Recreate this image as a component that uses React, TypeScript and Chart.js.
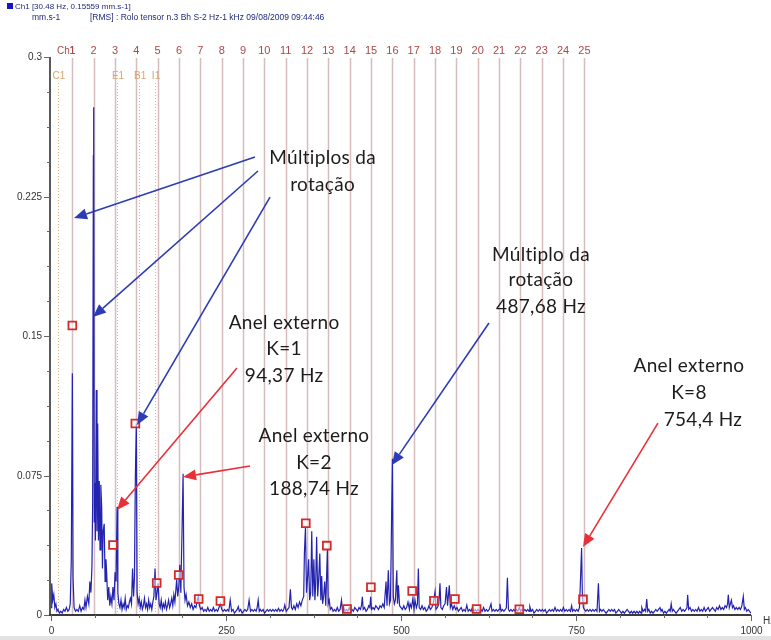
import React, { useEffect, useRef } from "react";
import { Chart, registerables } from "chart.js";

Chart.register(...registerables);

// ---------- DATA ----------
const headerLine1 = "Ch1 [30.48 Hz, 0.15559 mm.s-1]";
const headerUnit = "mm.s-1";
const headerLine2 = "[RMS] : Rolo tensor n.3 Bh S-2 Hz-1 kHz 09/08/2009 09:44:46";

const xTicks = [0, 250, 500, 750, 1000];
const yTicks = [0, 0.075, 0.15, 0.225, 0.3];
const yTickLabels = ["0", "0.075", "0.15", "0.225", "0.3"];

const harmonicHz = [30.48, 60.96, 91.44, 121.92, 152.4, 182.88, 213.36, 243.84, 274.32, 304.8, 335.28, 365.76, 396.24, 426.72, 457.2, 487.68, 518.16, 548.64, 579.12, 609.6, 640.08, 670.56, 701.04, 731.52, 762];
const harmonicLabels = ["1", "2", "3", "4", "5", "6", "7", "8", "9", "10", "11", "12", "13", "14", "15", "16", "17", "18", "19", "20", "21", "22", "23", "24", "25"];

const cursorHz = [10, 94.37, 126, 148.6];
const cursorLabels = ["C1", "E1", "B1", "I1"];

const spectrumLow: [number, number][] = [
  [0, 0.004], [1, 0.017], [2.5, 0.008], [4, 0.011], [5.5, 0.004], [7, 0.006], [8.5, 0.002], [10, 0.003], [12, 0.001], [14, 0.002], [16, 0.001], [18, 0.003], [20, 0.002], [22, 0.004], [24, 0.002], [26, 0.003], [27.5, 0.006], [29, 0.03], [30.5, 0.13], [31.5, 0.02], [33, 0.004], [35, 0.002], [37, 0.003], [39, 0.002], [41, 0.005], [43, 0.002], [45, 0.004], [47, 0.003], [48.5, 0.008], [50, 0.004], [52, 0.01], [54, 0.006], [55.5, 0.018], [57, 0.012], [58.5, 0.026], [59.5, 0.06], [60.5, 0.247], [61, 0.273], [61.8, 0.05], [62.5, 0.071], [63.5, 0.04], [64.7, 0.121], [65.7, 0.045], [66.7, 0.103], [67.8, 0.04], [69, 0.072], [70, 0.035], [71.2, 0.07], [72.4, 0.058], [73.5, 0.025], [74.5, 0.045], [76, 0.049], [77.3, 0.018], [78.5, 0.03], [79.5, 0.023], [81, 0.008], [82.5, 0.015], [84, 0.005], [85.5, 0.01], [87, 0.006], [88.5, 0.015], [90, 0.008], [91.5, 0.023], [93, 0.018], [94.4, 0.058], [95.5, 0.012], [97, 0.006], [98.5, 0.004], [100, 0.008], [101.5, 0.003], [103, 0.006], [104.5, 0.004], [106, 0.009], [107.5, 0.003], [109, 0.005], [110.5, 0.004], [112, 0.007], [113.5, 0.009], [115, 0.006], [116.5, 0.025], [118, 0.01], [119.2, 0.02], [120.5, 0.074], [121.9, 0.103], [123, 0.012], [124.5, 0.006], [126, 0.009], [127.5, 0.004], [129, 0.007], [130.5, 0.003], [132, 0.005], [133.5, 0.009], [135, 0.004], [136.5, 0.006], [138, 0.003], [139.5, 0.008], [141, 0.004], [142.5, 0.006], [144, 0.003], [145.5, 0.007], [147, 0.01], [148.6, 0.025], [150, 0.008], [151.5, 0.012], [153, 0.017], [154.5, 0.006], [156, 0.004], [157.5, 0.008], [159, 0.003], [160.5, 0.006], [162, 0.004], [163.5, 0.007], [165, 0.003], [166.5, 0.005], [168, 0.008], [169.5, 0.004], [171, 0.006], [172.5, 0.009], [174, 0.005], [175.5, 0.011], [177, 0.007], [179.5, 0.019], [181, 0.01], [182.5, 0.015], [184, 0.027], [185.5, 0.012], [187.5, 0.052], [188.7, 0.076], [190, 0.015], [191.5, 0.008], [193, 0.011], [195, 0.005], [197, 0.007], [199, 0.004], [201, 0.006], [203, 0.003], [205, 0.005], [207, 0.004], [209, 0.008], [210.5, 0.01], [212, 0.005], [214, 0.003], [216, 0.004], [218, 0.002], [220, 0.003], [222, 0.002], [224, 0.004], [226, 0.002], [228, 0.003], [230, 0.002], [232, 0.004], [234, 0.002], [236, 0.003], [238, 0.002], [240, 0.004], [242, 0.006], [244, 0.003], [246, 0.002], [248, 0.003],
];

const spectrumMid: [number, number][] = [
  [250, 0.002], [252, 0.003], [254, 0.002], [256, 0.008], [258, 0.002], [260, 0.003], [262, 0.001], [264, 0.002], [266, 0.003], [267.6, 0.0045], [269, 0.002], [271, 0.003], [273, 0.001], [275, 0.002], [277, 0.003], [279, 0.002], [281, 0.003], [283, 0.008], [285, 0.002], [287, 0.003], [289, 0.002], [291, 0.003], [293, 0.002], [294.5, 0.004], [296, 0.008], [297.5, 0.002], [299, 0.003], [301, 0.002], [303, 0.003], [305, 0.001], [307, 0.002], [309, 0.003], [311, 0.002], [313, 0.003], [315, 0.002], [317, 0.003], [319, 0.002], [321, 0.003], [323, 0.002], [325, 0.0036], [327, 0.002], [329, 0.003], [331, 0.002], [332.5, 0.003], [334, 0.0054], [336, 0.002], [338, 0.003], [340, 0.004], [342, 0.0138], [343.5, 0.004], [345, 0.003], [347, 0.005], [349, 0.003], [351, 0.006], [353, 0.004], [355, 0.007], [357, 0.005], [359, 0.008], [361, 0.01], [362, 0.033], [363.5, 0.047], [365, 0.012], [366.5, 0.02], [368, 0.03], [369.5, 0.008], [371, 0.012], [372.5, 0.045], [374, 0.01], [375.5, 0.03], [377, 0.008], [378, 0.015], [379.5, 0.042], [381, 0.01], [382.5, 0.02], [384, 0.033], [385.5, 0.008], [386.7, 0.021], [388, 0.006], [389.5, 0.01], [391, 0.018], [392.5, 0.005], [394.8, 0.035], [396, 0.006], [397.5, 0.008], [399, 0.003], [401, 0.004], [403, 0.002], [405, 0.003], [407, 0.002], [409, 0.004], [411, 0.002], [413, 0.003], [415, 0.008], [416.5, 0.002], [418, 0.004], [420, 0.002], [422, 0.003], [424, 0.002], [426, 0.004], [428, 0.002], [430, 0.003], [432, 0.002], [434, 0.004], [436, 0.003], [438, 0.002], [440, 0.004], [442, 0.003], [443.5, 0.005], [444.8, 0.0098], [446, 0.003], [448, 0.004], [450, 0.002], [452, 0.003], [454, 0.005], [455.5, 0.004], [456.7, 0.0098], [458, 0.003], [460, 0.004], [462, 0.003], [464, 0.005], [466, 0.004], [468, 0.003], [470, 0.005], [472, 0.004], [474, 0.006], [476, 0.004], [478.6, 0.018], [480, 0.005], [481.9, 0.024], [483.5, 0.006], [485, 0.008], [486.5, 0.051], [487.7, 0.084], [489, 0.01], [490.5, 0.006], [492, 0.008], [494, 0.024], [495, 0.006], [496.3, 0.016], [498, 0.005], [500, 0.004],
];

const spectrumHigh: [number, number][] = [
  [502, 0.003], [504, 0.005], [506, 0.003], [508, 0.004], [510, 0.007], [512, 0.003], [513, 0.006], [515, 0.004], [517, 0.009], [518.5, 0.003], [520, 0.008], [522, 0.004], [523.5, 0.006], [524.8, 0.025], [526, 0.004], [528, 0.003], [530, 0.005], [532, 0.003], [534, 0.004], [536, 0.002], [538, 0.003], [540, 0.005], [542, 0.003], [544, 0.004], [546, 0.006], [548.6, 0.0125], [550, 0.003], [552, 0.004], [554, 0.006], [555.7, 0.017], [557, 0.004], [559, 0.003], [561, 0.005], [563, 0.006], [565, 0.015], [566.5, 0.005], [569, 0.016], [570.5, 0.004], [572, 0.006], [574, 0.003], [576, 0.005], [578, 0.003], [580, 0.004], [582, 0.002], [584, 0.003], [586, 0.004], [588, 0.002], [590, 0.003], [592, 0.002], [594, 0.0053], [596, 0.002], [598, 0.003], [600, 0.002], [602, 0.004], [604, 0.002], [606, 0.003], [608, 0.002], [610, 0.003], [612, 0.002], [614, 0.003], [616, 0.002], [618, 0.004], [620, 0.002], [622, 0.003], [624, 0.002], [626, 0.003], [628.6, 0.006], [630, 0.002], [632, 0.003], [634, 0.002], [636, 0.003], [638, 0.002], [640, 0.003], [641.4, 0.006], [643, 0.002], [645, 0.003], [647, 0.002], [649, 0.003], [650.5, 0.004], [652, 0.02], [653.5, 0.003], [655, 0.002], [657, 0.003], [659, 0.002], [661, 0.003], [663, 0.002], [665, 0.003], [667, 0.002], [669, 0.004], [671, 0.002], [673, 0.003], [675, 0.002], [677, 0.003], [679, 0.002], [681, 0.003], [683, 0.002], [684, 0.0045], [686, 0.002], [688, 0.003], [690, 0.001], [692, 0.002], [694, 0.003], [696, 0.002], [698, 0.003], [700, 0.002], [702, 0.003], [704, 0.002], [706, 0.003], [708, 0.001], [710, 0.002], [712, 0.003], [714, 0.002], [716, 0.003], [718, 0.002], [720, 0.004], [722, 0.002], [724, 0.003], [726, 0.002], [728, 0.003], [730, 0.002], [732, 0.004], [734, 0.002], [736, 0.003], [738, 0.002], [740, 0.003], [742, 0.002], [743.8, 0.005], [745, 0.002], [747, 0.003], [749, 0.002],
];

const spectrumTop: [number, number][] = [
  [751, 0.003], [753, 0.002], [755, 0.004], [756.5, 0.02], [758, 0.036], [759, 0.012], [760.5, 0.004], [762, 0.003], [764, 0.002], [766, 0.003], [768, 0.002], [770, 0.003], [772, 0.002], [774, 0.003], [776, 0.002], [778, 0.003], [780, 0.002], [782, 0.017], [783.5, 0.002], [785, 0.003], [787, 0.002], [789, 0.003], [791, 0.002], [793, 0.001], [795, 0.002], [797, 0.003], [799, 0.002], [801, 0.003], [803, 0.002], [805, 0.003], [807, 0.001], [809, 0.002], [811, 0.003], [813, 0.002], [815, 0.001], [817, 0.002], [819, 0.001], [821, 0.002], [823, 0.003], [825, 0.002], [827, 0.001], [829, 0.002], [831, 0.001], [833, 0.002], [835, 0.001], [837, 0.002], [839, 0.001], [841, 0.002], [843, 0.001], [844, 0.004], [846, 0.002], [848, 0.003], [849.5, 0.002], [851, 0.0086], [852.5, 0.002], [854, 0.003], [856, 0.001], [858, 0.002], [860, 0.001], [862, 0.002], [864, 0.003], [866, 0.002], [868, 0.003], [870, 0.004], [871.5, 0.002], [873, 0.003], [875, 0.001], [877, 0.002], [879, 0.001], [881, 0.002], [883, 0.003], [884.5, 0.002], [886, 0.006], [887.5, 0.002], [889, 0.003], [891, 0.002], [893, 0.001], [895, 0.002], [897, 0.003], [899, 0.004], [901, 0.002], [903, 0.003], [905, 0.002], [907, 0.003], [908.5, 0.004], [909.5, 0.0108], [911, 0.003], [913, 0.004], [915, 0.002], [917, 0.003], [919, 0.002], [921, 0.003], [923, 0.002], [925, 0.004], [927, 0.002], [929, 0.003], [931, 0.002], [933, 0.004], [935, 0.002], [937, 0.003], [939, 0.004], [941, 0.002], [943, 0.003], [945, 0.004], [947, 0.003], [949, 0.002], [951, 0.004], [953, 0.003], [955, 0.005], [957, 0.003], [959, 0.004], [961, 0.003], [963, 0.005], [965, 0.004], [966.5, 0.006], [967.6, 0.0108], [969, 0.004], [970.5, 0.006], [972, 0.008], [973.5, 0.004], [975, 0.005], [977, 0.003], [979, 0.004], [981, 0.003], [983, 0.004], [985, 0.003], [987, 0.005], [989, 0.01], [990.5, 0.003], [992, 0.004], [994, 0.002], [996, 0.003], [998, 0.002], [1000, 0.001],
];

const markerHz = [30.48, 88.6, 120.5, 151, 182.5, 211, 242, 364, 394, 423, 457, 516, 547, 577, 608, 669, 760];
const markerAmp = [0.1556, 0.0376, 0.103, 0.0172, 0.0215, 0.0086, 0.0075, 0.0493, 0.0373, 0.0032, 0.0149, 0.0129, 0.0077, 0.0086, 0.0032, 0.0031, 0.0084];

// annotation texts: [text, hz, amplitude]
const annotationTexts: [string, number, number][] = [
  ["Múltiplos da", 388, 0.2457],
  ["rotação", 388, 0.2312],
  ["Anel externo", 333, 0.157],
  ["K=1", 333, 0.143],
  ["94,37 Hz", 333, 0.1285],
  ["Anel externo", 375.7, 0.0962],
  ["K=2", 375.7, 0.0817],
  ["188,74 Hz", 375.7, 0.0677],
  ["Múltiplo da", 700, 0.1935],
  ["rotação", 700, 0.1801],
  ["487,68 Hz", 700, 0.1658],
  ["Anel externo", 911.4, 0.1339],
  ["K=8", 911.4, 0.1194],
  ["754,4 Hz", 931.4, 0.1048],
];

// arrows: [tailHz, tailAmp, tipHz, tipAmp, colour]
const annotationArrows: [number, number, number, number, string][] = [
  [291.4, 0.2462, 32.9, 0.2134, "#2b3cb4"],
  [295.7, 0.2387, 60, 0.1602, "#2b3cb4"],
  [312.9, 0.2247, 122.9, 0.1022, "#2b3cb4"],
  [265.7, 0.1328, 94.3, 0.0565, "#e8303a"],
  [284.3, 0.0801, 188.6, 0.0742, "#e8303a"],
  [625.7, 0.157, 487.1, 0.0806, "#2b3cb4"],
  [867.1, 0.1032, 760, 0.0366, "#e8303a"],
];

// ---------- DRAWING ----------
function drawArrow(ctx: CanvasRenderingContext2D, x1: number, y1: number, x2: number, y2: number, color: string) {
  const ang = Math.atan2(y2 - y1, x2 - x1);
  const headLen = 13;
  const headHalf = 5.5;
  const bx = x2 - headLen * Math.cos(ang);
  const by = y2 - headLen * Math.sin(ang);
  ctx.strokeStyle = color;
  ctx.fillStyle = color;
  ctx.lineWidth = 1.6;
  ctx.beginPath();
  ctx.moveTo(x1, y1);
  ctx.lineTo(bx, by);
  ctx.stroke();
  ctx.beginPath();
  ctx.moveTo(x2, y2);
  ctx.lineTo(bx + headHalf * Math.sin(ang), by - headHalf * Math.cos(ang));
  ctx.lineTo(bx - headHalf * Math.sin(ang), by + headHalf * Math.cos(ang));
  ctx.closePath();
  ctx.fill();
}

const overlayPlugin = {
  id: "overlay",
  beforeDatasetsDraw(chart: any) {
    const { ctx, chartArea, scales } = chart;
    const { top, bottom } = chartArea;
    const x = scales.x;
    ctx.save();
    ctx.strokeStyle = "rgba(196,160,160,0.7)";
    ctx.lineWidth = 1.5;
    harmonicHz.forEach((hz) => {
      const px = Math.round(x.getPixelForValue(hz)) + 0.5;
      ctx.beginPath();
      ctx.moveTo(px, top + 1);
      ctx.lineTo(px, bottom);
      ctx.stroke();
    });
    ctx.strokeStyle = "rgba(232,170,100,0.9)";
    ctx.lineWidth = 1;
    ctx.setLineDash([1, 2]);
    cursorHz.forEach((hz) => {
      const px = Math.round(x.getPixelForValue(hz)) + 0.5;
      ctx.beginPath();
      ctx.moveTo(px, top + 26);
      ctx.lineTo(px, bottom);
      ctx.stroke();
    });
    ctx.setLineDash([]);
    ctx.restore();
  },
  afterDatasetsDraw(chart: any) {
    const { ctx, chartArea, scales } = chart;
    const { top, bottom, left, right } = chartArea;
    const x = scales.x;
    const y = scales.y;
    ctx.save();

    // header
    ctx.fillStyle = "#1414c8";
    ctx.fillRect(7, 3, 6, 6);
    ctx.fillStyle = "#1e2a78";
    ctx.textBaseline = "middle";
    ctx.textAlign = "left";
    ctx.font = "8px 'Liberation Sans', Arial, sans-serif";
    ctx.fillText(headerLine1, 15, 6.5);
    ctx.font = "8.5px 'Liberation Sans', Arial, sans-serif";
    ctx.fillText(headerUnit, 32, 18);
    ctx.fillText(headerLine2, 90, 18);

    // harmonic labels
    ctx.fillStyle = "#a84848";
    ctx.textAlign = "center";
    harmonicLabels.forEach((lab, i) => {
      const px = x.getPixelForValue(harmonicHz[i]);
      if (i === 0) {
        ctx.font = "10px 'Liberation Sans', Arial, sans-serif";
        ctx.textAlign = "right";
        ctx.fillText("Ch1", px + 3, 51);
        ctx.textAlign = "center";
      }
      ctx.font = "11px 'Liberation Sans', Arial, sans-serif";
      ctx.fillText(lab, px, 51);
    });
    ctx.fillStyle = "#d8a468";
    ctx.font = "10px 'Liberation Sans', Arial, sans-serif";
    cursorLabels.forEach((lab, i) => {
      const px = x.getPixelForValue(cursorHz[i]);
      ctx.fillText(lab, px + 1, 76);
    });

    // Y axis
    ctx.strokeStyle = "#5a5a5a";
    ctx.lineWidth = 2;
    ctx.beginPath();
    ctx.moveTo(left - 1, top);
    ctx.lineTo(left - 1, bottom + 1);
    ctx.stroke();
    ctx.lineWidth = 1;
    ctx.strokeStyle = "#666";
    for (let i = 0; i < yTicks.length - 1; i++) {
      const step = (yTicks[i + 1] - yTicks[i]) / 4;
      for (let j = 1; j < 4; j++) {
        const py = Math.round(y.getPixelForValue(yTicks[i] + step * j)) + 0.5;
        ctx.beginPath();
        ctx.moveTo(left - 4, py);
        ctx.lineTo(left - 1, py);
        ctx.stroke();
      }
    }
    ctx.fillStyle = "#333";
    ctx.font = "10px 'Liberation Sans', Arial, sans-serif";
    ctx.textAlign = "right";
    yTicks.forEach((v, i) => {
      const py = Math.round(y.getPixelForValue(v)) + 0.5;
      ctx.beginPath();
      ctx.moveTo(left - 7, py);
      ctx.lineTo(left - 1, py);
      ctx.stroke();
      ctx.fillText(yTickLabels[i], left - 9, py);
    });

    // X axis
    ctx.strokeStyle = "#3a3a3a";
    ctx.lineWidth = 2;
    ctx.beginPath();
    ctx.moveTo(left - 2, bottom);
    ctx.lineTo(right, bottom);
    ctx.stroke();
    ctx.lineWidth = 1;
    ctx.strokeStyle = "#666";
    for (let i = 0; i < xTicks.length - 1; i++) {
      const step = (xTicks[i + 1] - xTicks[i]) / 4;
      for (let j = 1; j < 4; j++) {
        const px = Math.round(x.getPixelForValue(xTicks[i] + step * j)) + 0.5;
        ctx.beginPath();
        ctx.moveTo(px, bottom);
        ctx.lineTo(px, bottom + 3);
        ctx.stroke();
      }
    }
    ctx.textAlign = "center";
    xTicks.forEach((v) => {
      const px = Math.round(x.getPixelForValue(v)) + 0.5;
      ctx.beginPath();
      ctx.moveTo(px, bottom);
      ctx.lineTo(px, bottom + 6);
      ctx.stroke();
      ctx.fillText(String(v), px, bottom + 16);
    });
    ctx.textAlign = "left";
    ctx.fillText("Hz", 763, bottom + 6);

    // bottom frame band
    ctx.fillStyle = "#e2e2e2";
    ctx.fillRect(0, 636, 771, 4);

    // annotations
    annotationArrows.forEach(([h1, a1, h2, a2, col]) => {
      drawArrow(ctx, x.getPixelForValue(h1), y.getPixelForValue(a1), x.getPixelForValue(h2), y.getPixelForValue(a2), col);
    });
    ctx.fillStyle = "#1c1c1c";
    ctx.font = "19px Lato, 'Open Sans', sans-serif";
    try { (ctx as any).letterSpacing = "0.3px"; } catch (e) {}
    ctx.textAlign = "center";
    ctx.textBaseline = "middle";
    annotationTexts.forEach(([t, hz, amp]) => {
      ctx.fillText(t, x.getPixelForValue(hz), y.getPixelForValue(amp));
    });
    ctx.restore();
  },
};

export default function App() {
  const ref = useRef<HTMLCanvasElement | null>(null);
  useEffect(() => {
    if (!ref.current) return;
    const spectrum = [...spectrumLow, ...spectrumMid, ...spectrumHigh, ...spectrumTop].map(([hz, a]) => ({ x: hz, y: a }));
    const markers = markerHz.map((hz, i) => ({ x: hz, y: markerAmp[i] }));
    const chart = new Chart(ref.current, {
      type: "line",
      data: {
        datasets: [
          {
            type: "scatter",
            data: markers,
            showLine: false,
            pointStyle: "rect",
            pointRadius: 5.5,
            borderColor: "#d42a2a",
            borderWidth: 1.8,
            backgroundColor: "rgba(255,255,255,0.55)",
            order: 0,
          } as any,
          {
            type: "line",
            data: spectrum,
            borderColor: "#2323b0",
            borderWidth: 1.2,
            pointRadius: 0,
            tension: 0,
            order: 1,
          },
        ],
      },
      options: {
        responsive: false,
        animation: false,
        events: [],
        layout: { padding: { left: 51, right: 20, top: 57, bottom: 25 } },
        plugins: { legend: { display: false }, tooltip: { enabled: false } },
        scales: {
          x: { type: "linear", min: 0, max: 1000, display: false },
          y: { type: "linear", min: 0, max: 0.3, display: false },
        },
      },
      plugins: [overlayPlugin],
    });
    return () => chart.destroy();
  }, []);
  return (
    <div style={{ position: "absolute", left: 0, top: 0, width: 771, height: 640, background: "#fff" }}>
      <canvas ref={ref} width={771} height={640} style={{ width: 771, height: 640 }} />
    </div>
  );
}
